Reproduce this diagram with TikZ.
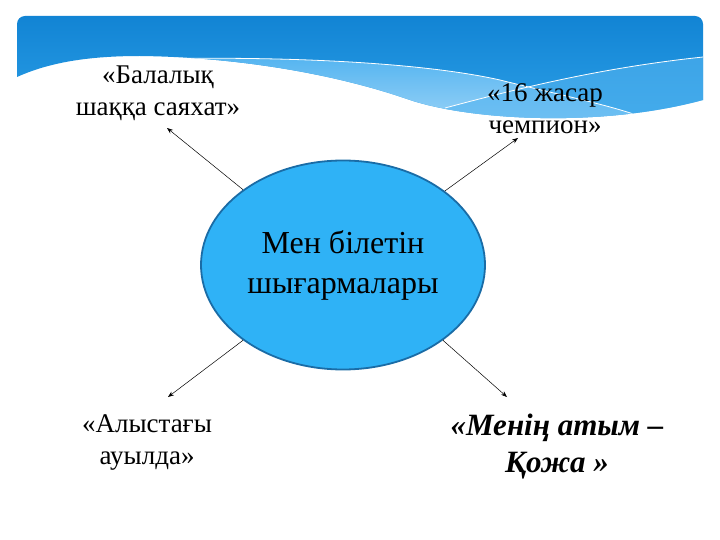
\documentclass[tikz,border=0pt]{standalone}
\usepackage{fontspec}
\setmainfont{Liberation Serif}
\usetikzlibrary{arrows.meta,shapes.geometric}

\definecolor{skytop}{RGB}{18,132,212}
\definecolor{skymid}{RGB}{48,164,234}
\definecolor{skylight}{RGB}{84,180,240}
\definecolor{skypale}{RGB}{170,218,249}
\definecolor{ovalfill}{RGB}{47,178,246}
\definecolor{ovalline}{RGB}{26,108,166}

\tikzset{
  booktitle/.style={align=center, font=\fontsize{27}{32}\selectfont, inner sep=0pt},
  pointer/.style={-{Stealth[length=6pt,width=4.5pt]}, line width=0.5pt, black}
}

\begin{document}
\begin{tikzpicture}[x=1pt, y=-1pt]
    \useasboundingbox (0,0) rectangle (720,540);
    \fill[white] (0,0) rectangle (720,540);

    % Banner with the wave
    \begin{scope}
        \clip[rounded corners=8pt] (17,16) rectangle (703,140);
        \clip (17,77) .. controls (50,62) and (90,56) .. (140,56)
            .. controls (230,57) and (330,72) .. (410,100)
            .. controls (470,120) and (600,128) .. (703,100)
            -- (703,16) -- (17,16) -- cycle;
        \shade[top color=skytop, bottom color=skymid] (17,16) rectangle (703,140);

        % lighter band under the falling line
        \shade[top color=skylight, bottom color=skypale] (150,59) .. controls (280,56) and (420,62) .. (500,80)
            .. controls (560,95) and (610,105) .. (645,118) -- (645,140) -- (150,140) -- cycle;

        % lighter band under the rising line
        \fill[skylight, opacity=0.6] (445,108) .. controls (520,88) and (600,68) .. (703,57) -- (703,140) -- (445,140) -- cycle;

        % white lines
        \draw[white, line width=0.8pt] (150,59) .. controls (280,56) and (420,62) .. (500,80)
            .. controls (560,95) and (610,105) .. (645,118);
        \draw[white, line width=0.8pt] (445,108) .. controls (520,88) and (600,68) .. (703,57);
    \end{scope}

    % Centre
    \node[ellipse, draw=ovalline, line width=1.8pt, fill=ovalfill, minimum width=284pt, minimum height=209pt,
        align=center, font=\fontsize{32}{40}\selectfont] (works) at (343,265) {Мен білетін\\шығармалары};

    % Titles
    \node[booktitle] (childhood) at (158,93) {«Балалық\\шаққа саяхат»};
    \node[booktitle] (champion) at (545,109) {«16 жасар\\чемпион»};
    \node[booktitle] (village) at (147,442) {«Алыстағы\\ауылда»};
    \node[booktitle, font=\fontsize{31}{37}\selectfont\bfseries\itshape] (kozha) at (557,447) {«Менің атым –\\Қожа »};

    % Arrow ends
    \coordinate (tipNW) at (167,128);
    \coordinate (tipNE) at (518,138);
    \coordinate (tipSW) at (168,397);
    \coordinate (tipSE) at (507,397);

    \draw[pointer] (works.143) -- (tipNW);
    \draw[pointer] (works.36) -- (tipNE);
    \draw[pointer] (works.217) -- (tipSW);
    \draw[pointer] (works.323) -- (tipSE);
\end{tikzpicture}
\end{document}
